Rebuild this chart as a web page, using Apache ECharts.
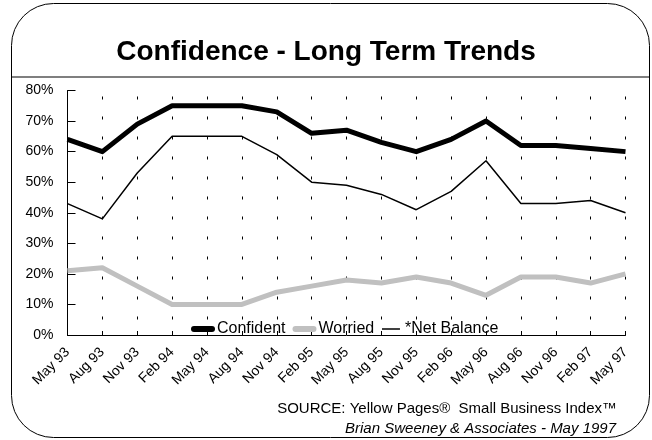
<!DOCTYPE html>
<html>
<head>
<meta charset="utf-8">
<script src="https://cdn.jsdelivr.net/npm/echarts@6/dist/echarts.min.js"></script>
<style>
html,body{margin:0;padding:0;background:#fff;}
#chart{width:652px;height:440px;}
</style>
</head>
<body>
<div id="chart"></div>
<script>
const categories = ['May 93','Aug 93','Nov 93','Feb 94','May 94','Aug 94','Nov 94','Feb 95','May 95','Aug 95','Nov 95','Feb 96','May 96','Aug 96','Nov 96','Feb 97','May 97'];
const confident = [64,60,69,75,75,75,73,66,67,63,60,64,70,62,62,61,60];
const worried = [21,22,16,10,10,10,14,16,18,17,19,17,13,19,19,17,20];
const netBalance = [43,38,53,65,65,65,59,50,49,46,41,47,57,43,43,44,40];
const yTicks = {min:0, max:80, interval:10};

const FONT = '"Liberation Sans", Arial, sans-serif';
const chart = echarts.init(document.getElementById('chart'), null, {renderer:'canvas'});
chart.setOption({
  animation:false,
  backgroundColor:'#ffffff',
  title:{
    text:'Confidence - Long Term Trends',
    left:'center', top:33,
    textStyle:{fontFamily:FONT, fontSize:28, fontWeight:'bold', color:'#000'}
  },
  grid:{left:67.5, top:90.5, right:26.5, bottom:105, containLabel:false},
  legend:{
    left:186, top:316,
    itemWidth:18, itemHeight:10, itemGap:7,
    itemStyle:{opacity:0},
    textStyle:{fontFamily:FONT, fontSize:16, color:'#000'},
    data:[
      {name:'Confident', lineStyle:{width:6, cap:'round'}},
      {name:'Worried', lineStyle:{width:6, cap:'round'}},
      {name:'*Net Balance', lineStyle:{width:1.5}}
    ]
  },
  xAxis:{
    type:'category', data:categories, boundaryGap:false,
    axisLine:{lineStyle:{color:'#000', width:1}},
    axisTick:{show:true, inside:true, length:4, lineStyle:{color:'#000'}},
    axisLabel:{rotate:45, fontFamily:FONT, fontSize:14, color:'#000', margin:15, interval:0},
    splitLine:{show:true, lineStyle:{color:'#000', width:1, type:[3,17], dashOffset:14}}
  },
  yAxis:{
    type:'value', min:yTicks.min, max:yTicks.max, interval:yTicks.interval,
    axisLine:{show:true, lineStyle:{color:'#000', width:1}},
    axisTick:{show:true, inside:true, length:8, lineStyle:{color:'#000'}},
    axisLabel:{formatter:'{value}%', fontFamily:FONT, fontSize:14, color:'#000', margin:14},
    splitLine:{show:false}
  },
  series:[
    {name:'Confident', type:'line', data:confident, symbol:'none', lineStyle:{color:'#000', width:5, join:'round'}, itemStyle:{color:'#000'}, z:4},
    {name:'Worried', type:'line', data:worried, symbol:'none', lineStyle:{color:'#c0c0c0', width:5, join:'round'}, itemStyle:{color:'#c0c0c0'}, z:3},
    {name:'*Net Balance', type:'line', data:netBalance, symbol:'none', lineStyle:{color:'#000', width:1.5}, itemStyle:{color:'#000'}, z:5}
  ],
  graphic:[
    {type:'rect', shape:{x:11.5, y:3.5, width:638, height:434, r:42}, style:{fill:'none', stroke:'#000', lineWidth:1}, silent:true},
    {type:'line', shape:{x1:12, y1:77, x2:649, y2:77}, style:{stroke:'#555', lineWidth:1.5}, silent:true},
    {type:'text', right:35, top:401, style:{text:'SOURCE: Yellow Pages\u00AE  Small Business Index\u2122', font:'15px "Liberation Sans", Arial, sans-serif', fill:'#000', textAlign:'right'}},
    {type:'text', right:36, top:421, style:{text:'Brian Sweeney & Associates - May 1997', font:'italic 15px "Liberation Sans", Arial, sans-serif', fill:'#000', textAlign:'right'}}
  ]
});
</script>
</body>
</html>
